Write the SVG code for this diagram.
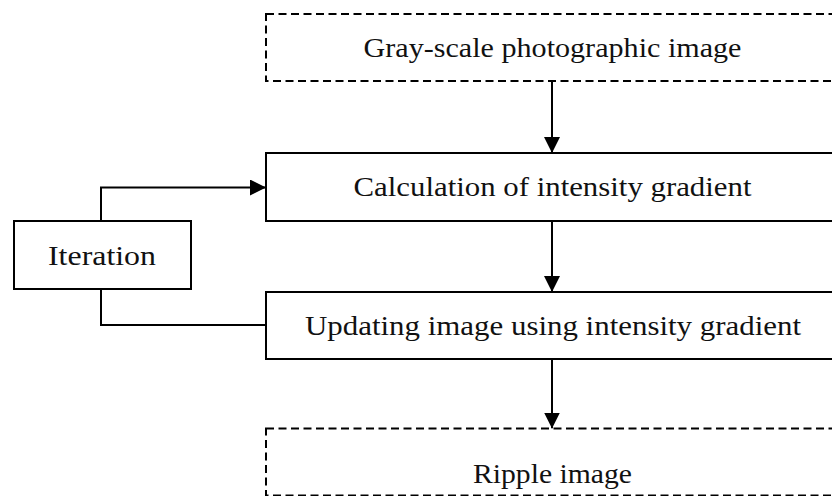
<svg xmlns="http://www.w3.org/2000/svg" width="832" height="496" viewBox="0 0 832 496">
  <defs>
    <marker id="arrow" markerUnits="userSpaceOnUse" markerWidth="16" markerHeight="16" refX="16" refY="8" orient="auto">
      <path d="M0,0 L16,8 L0,16 Z" fill="#000"/>
    </marker>
    <style>
      .box { fill: #fff; stroke: #000; stroke-width: 2; }
      .dashed { stroke-dasharray: 8 4.5; }
      .label { font-family: "Liberation Serif", "Times New Roman", serif; font-size: 28px; fill: #111; text-anchor: middle; }
      .conn { fill: none; stroke: #000; stroke-width: 2; }
    </style>
  </defs>
  <rect width="832" height="496" fill="#fff"/>

  <g id="connectors">
    <line class="conn" x1="552" y1="81" x2="552" y2="153" marker-end="url(#arrow)"/>
    <line class="conn" x1="552" y1="221" x2="552" y2="292" marker-end="url(#arrow)"/>
    <line class="conn" x1="552" y1="359" x2="552" y2="428.5" marker-end="url(#arrow)"/>
    <polyline class="conn" points="101,221 101,187.5 266,187.5" marker-end="url(#arrow)"/>
    <polyline class="conn" points="101,289 101,325 266,325"/>
  </g>

  <g id="grayscale-image">
    <rect class="box dashed" x="266" y="14" width="574" height="67"/>
    <text class="label" x="552.5" y="57" textLength="378" lengthAdjust="spacingAndGlyphs">Gray-scale photographic image</text>
  </g>

  <g id="gradient-calculation">
    <rect class="box" x="266" y="153" width="574" height="68"/>
    <text class="label" x="552.5" y="196" textLength="398" lengthAdjust="spacingAndGlyphs">Calculation of intensity gradient</text>
  </g>

  <g id="image-update">
    <rect class="box" x="266" y="292" width="574" height="67"/>
    <text class="label" x="553" y="335" textLength="496" lengthAdjust="spacingAndGlyphs">Updating image using intensity gradient</text>
  </g>

  <g id="ripple-image">
    <rect class="box dashed" x="266" y="428.5" width="574" height="67"/>
    <text class="label" x="552.5" y="483" textLength="159" lengthAdjust="spacingAndGlyphs">Ripple image</text>
  </g>

  <g id="iteration">
    <rect class="box" x="14" y="221" width="177" height="68"/>
    <text class="label" x="102" y="265" textLength="108" lengthAdjust="spacingAndGlyphs">Iteration</text>
  </g>
</svg>
